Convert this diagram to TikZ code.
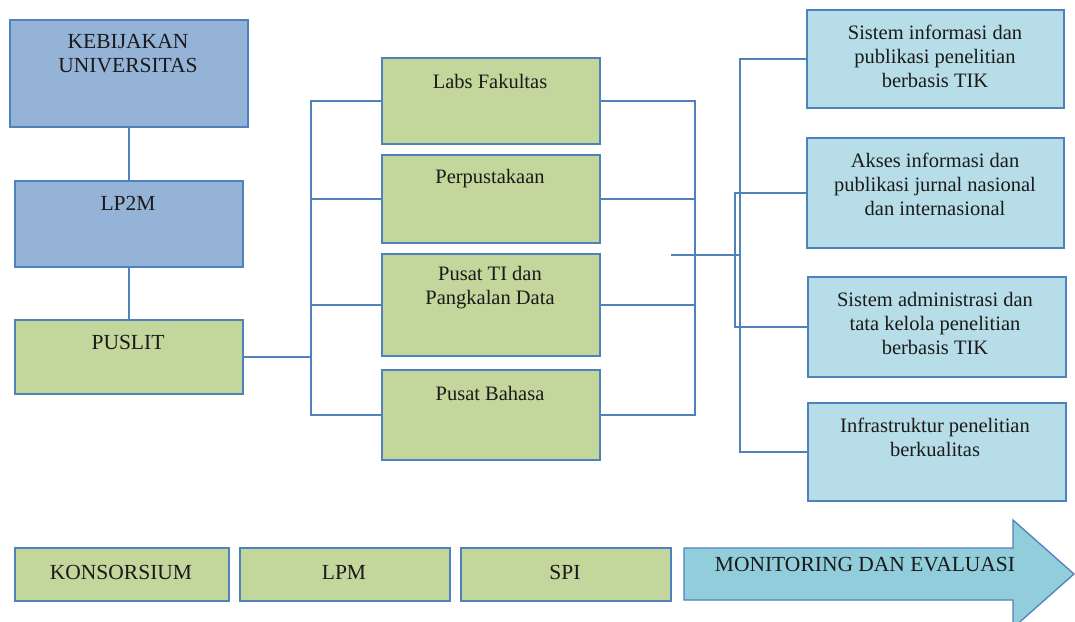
\documentclass[tikz,border=0pt]{standalone}
\usepackage{fontspec}
\setmainfont{Liberation Serif}
\definecolor{lineblue}{HTML}{4F81BD}
\definecolor{bluefill}{HTML}{95B3D7}
\definecolor{greenfill}{HTML}{C3D69B}
\definecolor{aquafill}{HTML}{B7DDE8}
\definecolor{arrowfill}{HTML}{92CDDC}
\definecolor{txt}{HTML}{1A1A1A}
\tikzset{
  box/.style={draw=lineblue, line width=1.8pt, inner sep=0pt, anchor=north west},
  bluebox/.style={box, fill=bluefill},
  greenbox/.style={box, fill=greenfill},
  aquabox/.style={box, fill=aquafill},
  conn/.style={draw=lineblue, line width=1.8pt},
  lbl/.style={font=\fontsize{20.5}{24}\selectfont, text=txt, align=center, inner sep=0pt},
  lblcaps/.style={lbl, font=\fontsize{21.5}{24}\selectfont}
}
\begin{document}
\begin{tikzpicture}[x=1pt, y=-1pt]
\useasboundingbox (0,0) rectangle (1075,621);
% left column
\node[bluebox, minimum width=238pt, minimum height=107pt] (keb) at (9,19) {};
\node[bluebox, minimum width=228pt, minimum height=86pt] (lp2m) at (14,180) {};
\node[greenbox, minimum width=228pt, minimum height=74pt] (puslit) at (14,319) {};
\draw[conn] (keb.south) -- (lp2m.north);
\draw[conn] (lp2m.south) -- (puslit.north);
% middle column
\node[greenbox, minimum width=218pt, minimum height=86pt] (labs) at (381,57) {};
\node[greenbox, minimum width=218pt, minimum height=88pt] (perpus) at (381,154) {};
\node[greenbox, minimum width=218pt, minimum height=102pt] (ti) at (381,253) {};
\node[greenbox, minimum width=218pt, minimum height=90pt] (bahasa) at (381,369) {};
% right column
\node[aquabox, minimum width=257pt, minimum height=98pt] (r1) at (806,9) {};
\node[aquabox, minimum width=257pt, minimum height=110pt] (r2) at (806,137) {};
\node[aquabox, minimum width=258pt, minimum height=100pt] (r3) at (807,276) {};
\node[aquabox, minimum width=258pt, minimum height=98pt] (r4) at (807,402) {};
% bottom row
\node[greenbox, minimum width=214pt, minimum height=53pt] (kons) at (14,547) {};
\node[greenbox, minimum width=210pt, minimum height=53pt] (lpm) at (239,547) {};
\node[greenbox, minimum width=210pt, minimum height=53pt] (spi) at (460,547) {};
\draw[draw=lineblue, line width=1.3pt, fill=arrowfill]
  (684,548) -- (1013,548) -- (1013,520) -- (1074,574) -- (1013,628) -- (1013,600) -- (684,600) -- cycle;
% connectors
\coordinate (lj) at (311,356);
\coordinate (ms) at (671,255);
\coordinate (mj) at (740,255);
\draw[conn] (puslit.east) -- (puslit.east -| lj);
\draw[conn] (labs.west) -- ++(-70,0) |- (bahasa.west);
\draw[conn] (perpus.west) -- ++(-70,0);
\draw[conn] (ti.west) -- ++(-70,0);
\draw[conn] (labs.east) -- ++(94,0) |- (bahasa.east);
\draw[conn] (perpus.east) -- ++(94,0);
\draw[conn] (ti.east) -- ++(94,0);
\draw[conn] (ms) -- (mj);
\draw[conn] (r1.west) -- ++(-66,0) |- (r4.west);
\draw[conn] (r2.west) -- ++(-71,0) |- (r3.west);
% labels
\node[lblcaps] (kebT) at (128,54) {KEBIJAKAN\\UNIVERSITAS};
\node[lblcaps] (lp2mT) at (128,203) {LP2M};
\node[lblcaps] (puslitT) at (128,342) {PUSLIT};
\node[lbl] (labsT) at (490,81) {Labs Fakultas};
\node[lbl] (perpusT) at (490,179) {Perpustakaan};
\node[lbl] (tiT) at (490,288) {Pusat TI dan\\Pangkalan Data};
\node[lbl] (bahasaT) at (490,393) {Pusat Bahasa};
\node[lbl] (r1T) at (935,56) {Sistem informasi dan\\publikasi penelitian\\berbasis TIK};
\node[lbl] (r2T) at (935,184) {Akses informasi dan\\publikasi jurnal nasional\\dan internasional};
\node[lbl] (r3T) at (935,323) {Sistem administrasi dan\\tata kelola penelitian\\berbasis TIK};
\node[lbl] (r4T) at (935,437) {Infrastruktur penelitian\\berkualitas};
\node[lblcaps] (konsT) at (121,572) {KONSORSIUM};
\node[lblcaps] (lpmT) at (344,572) {LPM};
\node[lblcaps] (spiT) at (565,572) {SPI};
\node[lblcaps] (monevT) at (865,565) {MONITORING DAN EVALUASI};
\end{tikzpicture}
\end{document}
